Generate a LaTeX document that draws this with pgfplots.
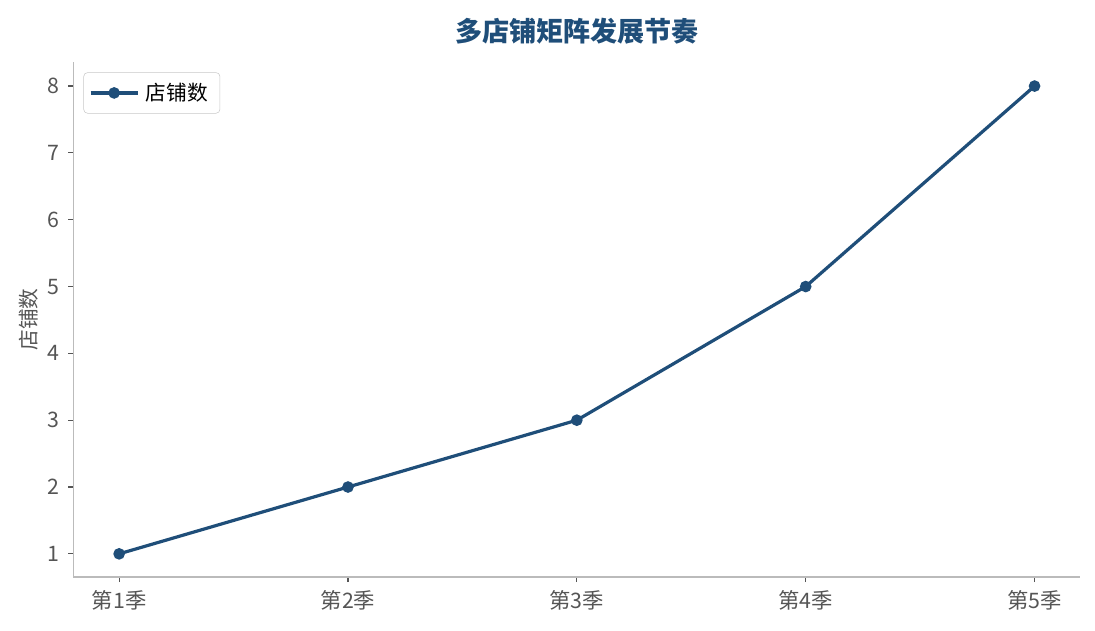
\documentclass[border=0pt]{standalone}
\usepackage{pgfplots}
\pgfplotsset{compat=1.18}
\usepackage{fontspec}
\setmainfont{Noto Sans CJK SC}
\definecolor{navy}{HTML}{1F4E79}
\definecolor{ticktext}{HTML}{555555}
\definecolor{spine}{HTML}{BBBBBB}
\begin{document}
\begin{tikzpicture}
\begin{axis}[
  scale only axis,
  width=755pt, height=386pt,
  xmin=0.8, xmax=5.2,
  ymin=0.656, ymax=8.36,
  axis lines*=left,
  axis line style={spine, line width=1.2pt},
  xtick={1,2,3,4,5},
  xticklabels={第1季,第2季,第3季,第4季,第5季},
  ytick={1,...,8},
  tick style={ticktext, line width=0.9pt},
  tick align=outside,
  major tick length=4pt,
  tick label style={font=\fontsize{16pt}{18pt}\selectfont, text=ticktext},
  xticklabel style={yshift=-3pt},
  yticklabel style={xshift=-3pt},
  /pgf/number format/assume math mode=true,
  ylabel={店铺数},
  ylabel style={font=\fontsize{15.5pt}{17pt}\selectfont, text=ticktext, yshift=0pt},
  title={\bfseries 多店铺矩阵发展节奏},
  title style={font=\fontsize{20.3pt}{22pt}\selectfont, text=navy, yshift=4pt},
  legend style={font=\fontsize{15.5pt}{17pt}\selectfont, draw=spine!80, rounded corners=3pt,
    inner xsep=4pt, inner ysep=6pt, at={(0.01,0.98)}, anchor=north west,
    nodes={inner xsep=5pt}},
  legend image code/.code={
    \draw[mark repeat=2,mark phase=2,#1] plot coordinates {(0cm,0cm) (0.62cm,0cm) (1.24cm,0cm)};
  },
  legend cell align=left,
]
\addplot[navy, line width=2.4pt, mark=*, mark size=3.1pt, mark options={fill=navy, draw=navy}]
  coordinates {(1,1) (2,2) (3,3) (4,5) (5,8)};
\legend{店铺数}
\end{axis}
\path (current axis.south west) ++(-55pt,-40pt) (current axis.north east) ++(11pt,46.5pt);
\end{tikzpicture}
\end{document}
